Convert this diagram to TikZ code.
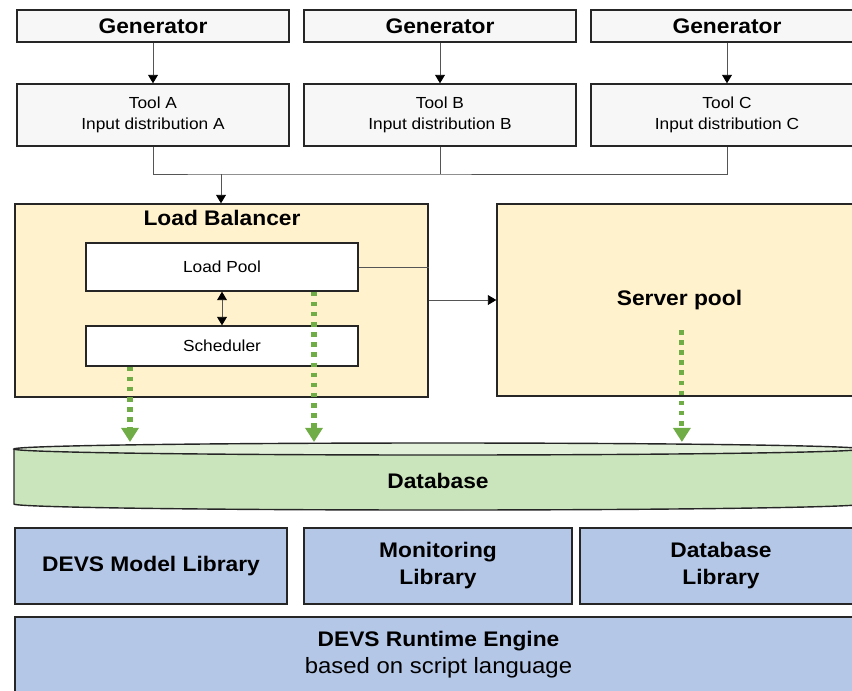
\documentclass[tikz,border=0pt]{standalone}
\usepackage{fontspec}
\setmainfont{Liberation Sans}[FakeStretch=1.08]
\usetikzlibrary{positioning,arrows.meta,calc}
\definecolor{dvGray}{HTML}{F7F7F7}
\definecolor{dvLine}{HTML}{262626}
\definecolor{dvConn}{HTML}{555555}
\definecolor{dvYellow}{HTML}{FFF2CC}
\definecolor{dvGreen}{HTML}{70AD47}
\definecolor{dvDbBody}{HTML}{CAE5BC}
\definecolor{dvDbTop}{HTML}{E2F0D9}
\definecolor{dvBlue}{HTML}{B4C7E7}

\begin{document}
\begin{tikzpicture}[
  gen/.style={draw=dvLine, fill=dvGray, line width=1pt, minimum width=6.8cm,
              minimum height=0.8cm, inner sep=0pt, font=\fontsize{15}{17}\selectfont\bfseries},
  tool/.style={draw=dvLine, fill=dvGray, line width=1pt, minimum width=6.8cm,
               minimum height=1.55cm, align=center, font=\fontsize{11.4}{15}\selectfont},
  zone/.style={draw=dvLine, fill=dvYellow, line width=1pt, inner sep=0pt},
  sub/.style={draw=dvLine, fill=white, line width=1pt, minimum width=6.8cm,
              font=\fontsize{11.4}{15}\selectfont},
  lib/.style={draw=dvLine, fill=dvBlue, line width=1pt, minimum height=1.9cm,
              align=center, font=\fontsize{15}{19.2}\selectfont\bfseries},
  conn/.style={dvConn, line width=0.6pt},
  flecha/.style={conn, -{Triangle[length=6pt, width=7pt, color=black]}},
  twoway/.style={conn, {Triangle[length=6pt, width=7pt, color=black]}-{Triangle[length=6pt, width=7pt, color=black]}},
  feed/.style={dvGreen, line width=3.6pt, dash pattern=on 3.2pt off 4pt,
               -{Triangle[length=10pt, width=12pt]}}
]
\useasboundingbox (0,0) rectangle (21.3,-17.25);
\clip (0,0) rectangle (21.3,-17.25);

% generators and tools
\node[gen] (genA) at (3.825,-0.65) {Generator};
\node[gen] (genB) at (11.0,-0.65) {Generator};
\node[gen] (genC) at (18.175,-0.65) {Generator};
\node[tool] (toolA) at (3.825,-2.875) {Tool A\\Input distribution A};
\node[tool] (toolB) at (11.0,-2.875) {Tool B\\Input distribution B};
\node[tool] (toolC) at (18.175,-2.875) {Tool C\\Input distribution C};

% load balancer and server pool
\node[zone, minimum width=10.325cm, minimum height=4.825cm] (lb) at (5.5375,-7.5125) {};
\node[font=\fontsize{15}{17}\selectfont\bfseries] (lbtitle) at (5.55,-5.45) {Load Balancer};
\node[sub, minimum height=1.2cm] (pool) at (5.55,-6.675) {Load Pool};
\node[sub, minimum height=1.0cm] (sched) at (5.55,-8.65) {Scheduler};
\node[zone, minimum width=9.125cm, minimum height=4.8cm,
      font=\fontsize{15}{17}\selectfont\bfseries] (srv) at (16.9875,-7.5) {Server pool};

% database
\fill[dvDbBody] (0.35,-11.225) -- (0.35,-12.6)
  arc[start angle=180, end angle=360, x radius=10.6cm, y radius=0.15cm] -- (21.55,-11.225) -- cycle;
\draw[dvLine, line width=1pt] (0.35,-11.225) -- (0.35,-12.6)
  arc[start angle=180, end angle=360, x radius=10.6cm, y radius=0.15cm] -- (21.55,-11.225);
\draw[dvLine, fill=dvDbTop, line width=1pt] (10.95,-11.225) ellipse [x radius=10.6cm, y radius=0.15cm];
\node[font=\fontsize{15}{17}\selectfont\bfseries] (db) at (10.95,-12.03) {Database};
\coordinate (dbtop) at (10.95,-11.05);

% libraries
\node[lib, minimum width=6.8cm] (devs) at (3.775,-14.15) {DEVS Model Library};
\node[lib, minimum width=6.7cm] (mon) at (10.95,-14.15) {Monitoring\\Library};
\node[lib, minimum width=7.05cm] (dblib) at (18.025,-14.15) {Database\\Library};
\node[lib, minimum width=21.175cm, minimum height=1.875cm] (rt) at (10.9625,-16.3625)
  {DEVS Runtime Engine\\{\fontsize{15.75}{19.2}\selectfont\mdseries based on script language}};

% connectors
\draw[flecha] (genA) -- (toolA);
\draw[flecha] (genB) -- (toolB);
\draw[flecha] (genC) -- (toolC);
\coordinate (merge) at (5.525,-4.35);
\draw[conn] (toolA.south) |- (merge) -| (toolC.south);
\draw[conn] (toolB.south) -- (toolB.south |- merge);
\draw[flecha] (merge) -- (merge |- lb.north);
\draw[twoway] (pool) -- (sched);
\draw[conn] (pool.east) -- (pool.east -| lb.east);
\draw[flecha] (lb.east |- srv.west) -- (srv.west);

\coordinate (schedout) at ($(sched.south)+(-2.3,0)$);
\coordinate (poolout) at ($(pool.south)+(2.3,0)$);
\coordinate (srvout) at ($(srv.center)+(0.06,-0.75)$);
\draw[feed] (schedout) -- (schedout |- dbtop);
\draw[feed] (poolout) -- (poolout |- dbtop);
\draw[feed] (srvout) -- (srvout |- dbtop);

\end{tikzpicture}
\end{document}
